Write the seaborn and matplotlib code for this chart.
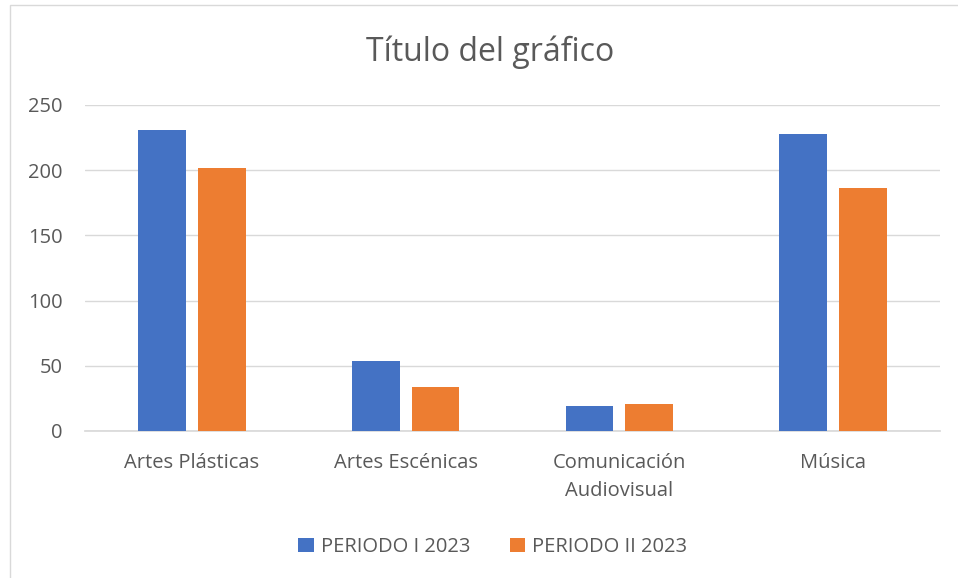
import matplotlib
matplotlib.use("Agg")
import matplotlib.pyplot as plt
import seaborn as sns
import pandas as pd
from matplotlib.patches import Rectangle

categories = ["Artes Plásticas", "Artes Escénicas", "Comunicación\nAudiovisual", "Música"]
series_names = ["PERIODO I 2023", "PERIODO II 2023"]
periodo_1 = [231, 54, 19, 228]
periodo_2 = [202, 34, 21, 186]
y_ticks = [0, 50, 100, 150, 200, 250]
colors = ["#4472C4", "#ED7D31"]

df = pd.DataFrame({
    "Categoria": categories * 2,
    "Serie": [series_names[0]] * 4 + [series_names[1]] * 4,
    "Valor": periodo_1 + periodo_2,
})

sns.set_theme(style="white")
plt.rcParams["font.family"] = ["Open Sans", "DejaVu Sans"]
txt = "#595959"

fig = plt.figure(figsize=(9.58, 5.78), dpi=100)
ax = fig.add_axes([85/958, 1 - 431/578, 855/958, 326/578])

sns.barplot(data=df, x="Categoria", y="Valor", hue="Serie", palette=colors,
            width=0.56, gap=0.2, ax=ax, saturation=1, legend=True, zorder=3,
            linewidth=0)

ax.set_ylim(0, 250)
ax.set_xlim(-0.5, 3.5)
ax.set_yticks(y_ticks)
ax.yaxis.grid(True, color="#d9d9d9", lw=1, zorder=0)
ax.set_axisbelow(True)
for s in ["top", "right", "left"]:
    ax.spines[s].set_visible(False)
ax.spines["bottom"].set_color("#d9d9d9")
ax.set_xlabel("")
ax.set_ylabel("")
ax.tick_params(axis="y", length=0, pad=16, labelsize=14.5, labelcolor=txt)
ax.tick_params(axis="x", length=0, pad=16, labelsize=14.5, labelcolor=txt)
for lab in ax.get_xticklabels():
    lab.set_linespacing(1.5)

handles, labels = ax.get_legend_handles_labels()
ax.get_legend().remove()
fig.legend(handles, labels, loc="center", bbox_to_anchor=(493/958, 1 - 547/578), ncol=2,
           frameon=False, fontsize=14.5, labelcolor=txt, handlelength=0.75, handleheight=0.75,
           handletextpad=0.35, columnspacing=2.0)

fig.text(490/958, 1 - 52/578, "Título del gráfico", ha="center", va="center",
         fontsize=23, color=txt)

fig.patches.append(Rectangle((10/958, -0.1), 1.2, 1 - 5/578 + 0.1, transform=fig.transFigure,
                             fill=False, edgecolor="#d9d9d9", lw=1))

fig.savefig("out.png", dpi=100)
